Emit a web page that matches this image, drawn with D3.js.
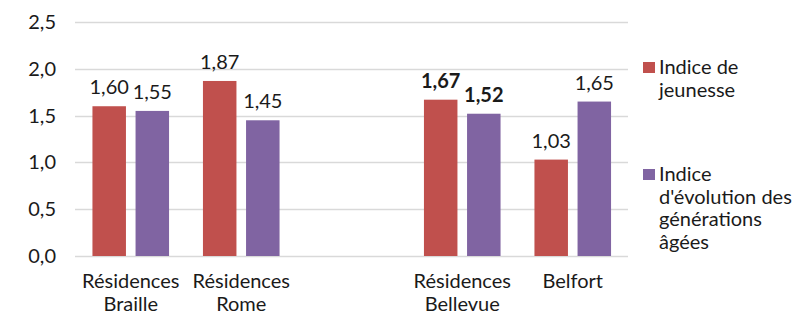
<!DOCTYPE html>
<html><head><meta charset="utf-8">
<script src="https://cdn.jsdelivr.net/npm/d3@7/dist/d3.min.js"></script>
<style>body{margin:0;background:#fff}svg{display:block}text{font-family:Lato,"Open Sans",sans-serif;fill:#1a1a1a}</style>
</head><body><svg id="c" width="806" height="314"></svg>
<script>
const categories = [["Résidences","Braille"],["Résidences","Rome"],[],["Résidences","Bellevue"],["Belfort"]];
const catKeys = ["braille","rome","gap","bellevue","belfort"];
const seriesNames = [["Indice de","jeunesse"],["Indice","d'évolution des","générations","âgées"]];
const jeunesse = [1.60, 1.87, null, 1.67, 1.03];
const evolution = [1.55, 1.45, null, 1.52, 1.65];
const boldCategories = ["bellevue"];
const yTicks = [0, 0.5, 1.0, 1.5, 2.0, 2.5];
const colors = ["#C0504D", "#8064A2"];

const FS = "20px";
const svg = d3.select("#c");
const x = d3.scaleBand().domain(catKeys).range([75.5, 628]);
const y = d3.scaleLinear().domain([0, 2.5]).range([256, 22]);
const fmt = v => d3.format(".2f")(v).replace(".", ",");
const fmtTick = v => d3.format(".1f")(v).replace(".", ",");

// gridlines
svg.append("g").selectAll("line").data(yTicks).join("line")
  .attr("x1", 75).attr("x2", 628)
  .attr("y1", d => Math.round(y(d)) + 0.5).attr("y2", d => Math.round(y(d)) + 0.5)
  .attr("stroke", "#D9D9D9").attr("stroke-width", 1.3);

// y axis labels
const yAxis = d3.axisLeft(y).tickValues(yTicks).tickFormat(fmtTick).tickSize(0).tickPadding(0);
const ga = svg.append("g").attr("transform", "translate(56,0)").call(yAxis);
ga.select(".domain").remove();
ga.selectAll("text").style("font-size", FS).style("font-family", "Lato,sans-serif").attr("fill", "#1a1a1a");

// bars
const barW = 33.5, gap = 9.6;
const x1 = d3.scaleOrdinal().domain([0, 1]).range([-(barW + gap / 2), gap / 2]);
const series = [jeunesse, evolution];
series.forEach((vals, si) => {
  const data = catKeys.map((k, i) => ({k, v: vals[i]})).filter(d => d.v != null);
  svg.append("g").selectAll("rect").data(data).join("rect")
    .attr("x", d => x(d.k) + x.bandwidth() / 2 + x1(si))
    .attr("width", barW)
    .attr("y", d => y(d.v))
    .attr("height", d => y(0) - y(d.v))
    .attr("fill", colors[si]);
  svg.append("g").selectAll("text").data(data).join("text")
    .attr("x", d => x(d.k) + x.bandwidth() / 2 + x1(si) + barW / 2)
    .attr("y", d => y(d.v) - 12)
    .attr("text-anchor", "middle")
    .style("font-size", FS)
    .style("font-weight", d => boldCategories.includes(d.k) ? "bold" : "normal")
    .text(d => fmt(d.v));
});

// category labels
catKeys.forEach((k, i) => {
  const cx = x(k) + x.bandwidth() / 2;
  const t = svg.append("text").attr("text-anchor", "middle").style("font-size", FS);
  categories[i].forEach((line, j) => {
    t.append("tspan").attr("x", cx).attr("y", 288 + j * 23).text(line);
  });
});

// legend
const legendY = [62, 169];
seriesNames.forEach((lines, si) => {
  svg.append("rect").attr("x", 643).attr("y", legendY[si]).attr("width", 12).attr("height", 11)
    .attr("fill", colors[si]);
  const t = svg.append("text").style("font-size", FS);
  lines.forEach((line, j) => {
    t.append("tspan").attr("x", 659).attr("y", legendY[si] + 12 + j * 22.6).text(line);
  });
});
</script></body></html>
